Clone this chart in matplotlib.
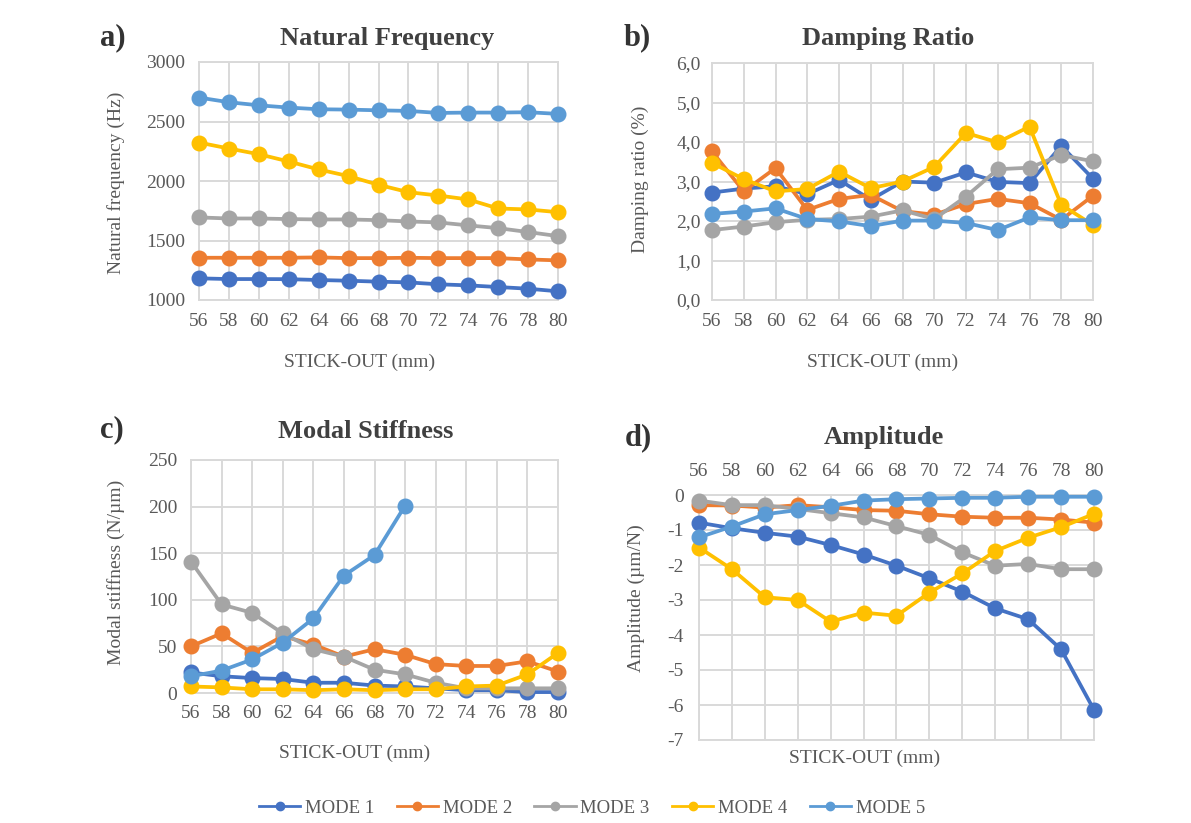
import numpy as np
import matplotlib
matplotlib.use("Agg")
import matplotlib.pyplot as plt
from matplotlib.lines import Line2D

plt.rcParams['font.family'] = ['Liberation Serif', 'DejaVu Serif']
plt.rcParams['axes.unicode_minus'] = False

# stick-out lengths (mm)
stick_out = [56, 58, 60, 62, 64, 66, 68, 70, 72, 74, 76, 78, 80]
modes = ['MODE 1', 'MODE 2', 'MODE 3', 'MODE 4', 'MODE 5']
colors = ['#4472C4', '#ED7D31', '#A5A5A5', '#FFC000', '#5B9BD5']

# natural frequency (Hz)
freq_m1 = [1182, 1176, 1176, 1175, 1168, 1162, 1154, 1148, 1132, 1123, 1109, 1095, 1073]
freq_m2 = [1355, 1355, 1355, 1355, 1358, 1352, 1352, 1355, 1352, 1352, 1352, 1341, 1333]
freq_m3 = [1694, 1685, 1685, 1680, 1677, 1677, 1671, 1660, 1652, 1627, 1604, 1571, 1537]
freq_m4 = [2323, 2273, 2225, 2164, 2097, 2041, 1968, 1906, 1878, 1845, 1769, 1761, 1738]
freq_m5 = [2701, 2662, 2636, 2617, 2603, 2600, 2594, 2589, 2572, 2575, 2575, 2578, 2564]

# damping ratio (%)
damp_m1 = [2.72, 2.82, 2.88, 2.68, 3.04, 2.54, 3.00, 2.97, 3.23, 2.99, 2.96, 3.90, 3.07]
damp_m2 = [3.76, 2.75, 3.34, 2.28, 2.56, 2.66, 2.25, 2.16, 2.43, 2.56, 2.45, 2.03, 2.64]
damp_m3 = [1.77, 1.86, 1.97, 2.03, 2.05, 2.11, 2.27, 2.05, 2.62, 3.31, 3.35, 3.67, 3.51]
damp_m4 = [3.47, 3.06, 2.75, 2.81, 3.25, 2.83, 3.00, 3.37, 4.23, 3.99, 4.39, 2.41, 1.90]
damp_m5 = [2.18, 2.24, 2.32, 2.05, 1.99, 1.87, 2.01, 2.01, 1.95, 1.77, 2.09, 2.02, 2.02]

# modal stiffness (N/µm)
stiff_m1 = [22, 18, 16, 15, 11, 11, 8, 7, 5, 3, 3, 1, 1]
stiff_m2 = [50, 64, 43, 61, 52, 39, 47, 41, 31, 29, 29, 34, 23]
stiff_m3 = [141, 95, 86, 64, 47, 39, 25, 20, 11, 5, 5, 5, 5]
stiff_m4 = [7, 6, 4, 4, 3, 4, 3, 4, 4, 7, 8, 20, 43]
stiff_m5 = [18, 24, 36, 54, 80, 126, 148, 201, np.nan, np.nan, np.nan, np.nan, np.nan]

# amplitude (µm/N)
amp_m1 = [-0.79, -0.95, -1.08, -1.19, -1.43, -1.70, -2.02, -2.38, -2.76, -3.24, -3.55, -4.41, -6.14]
amp_m2 = [-0.29, -0.30, -0.36, -0.29, -0.35, -0.43, -0.45, -0.55, -0.62, -0.65, -0.65, -0.70, -0.79]
amp_m3 = [-0.16, -0.29, -0.29, -0.40, -0.52, -0.64, -0.89, -1.14, -1.64, -2.02, -1.97, -2.12, -2.12]
amp_m4 = [-1.50, -2.12, -2.92, -3.00, -3.62, -3.36, -3.45, -2.79, -2.24, -1.60, -1.22, -0.92, -0.54]
amp_m5 = [-1.21, -0.90, -0.55, -0.43, -0.31, -0.16, -0.12, -0.10, -0.08, -0.08, -0.05, -0.05, -0.05]

W, H = 1191, 823
fig = plt.figure(figsize=(W / 100, H / 100), dpi=100)
fig.patch.set_facecolor('white')

GRID = '#D9D9D9'
TXT = '#595959'


def add_panel(left, right, top, bottom):
    return fig.add_axes([left / W, 1 - bottom / H, (right - left) / W, (bottom - top) / H])


def ftext(x, y, s, **kw):
    fig.text(x / W, 1 - y / H, s, ha='center', va='center', **kw)


def style(ax, ymin, ymax, ystep, ypad):
    ax.set_xlim(56, 80)
    ax.set_ylim(ymin, ymax)
    ax.set_xticks(stick_out)
    ax.set_yticks(np.arange(ymin, ymax + ystep / 2, ystep))
    ax.grid(True, color=GRID, lw=1.4)
    ax.set_axisbelow(True)
    for s in ax.spines.values():
        s.set_color(GRID)
        s.set_linewidth(1.4)
    ax.tick_params(length=0, labelsize=14, colors=TXT)
    ax.tick_params(axis='x', pad=9)
    ax.tick_params(axis='y', pad=ypad)


def draw(ax, series):
    for vals, c in zip(series, colors):
        ax.plot(stick_out, vals, color=c, lw=2.7, marker='o', ms=10.5,
                clip_on=False, zorder=3)


# a) natural frequency
ax_a = add_panel(199, 558, 62, 300)
draw(ax_a, [freq_m1, freq_m2, freq_m3, freq_m4, freq_m5])
style(ax_a, 1000, 3000, 500, 10)

# b) damping ratio
ax_b = add_panel(712, 1093, 63, 300)
draw(ax_b, [damp_m1, damp_m2, damp_m3, damp_m4, damp_m5])
style(ax_b, 0, 6, 1, 8)
ax_b.set_yticklabels([f"{v:.1f}".replace('.', ',') for v in np.arange(0, 6.5, 1)])

# c) modal stiffness
ax_c = add_panel(191, 558, 460, 693)
draw(ax_c, [stiff_m1, stiff_m2, stiff_m3, stiff_m4, stiff_m5])
style(ax_c, 0, 250, 50, 10)

# d) amplitude, category labels on top
ax_d = add_panel(699, 1094, 495, 740)
draw(ax_d, [amp_m1, amp_m2, amp_m3, amp_m4, amp_m5])
style(ax_d, -7, 0, 1, 11)
ax_d.xaxis.tick_top()
ax_d.tick_params(axis='x', pad=11)

# titles and panel letters
title_kw = dict(fontsize=19, fontweight='bold', color='#404040')
letter_kw = dict(fontsize=22, fontweight='bold', color='#333333')
ftext(387, 38, 'Natural Frequency', **title_kw)
ftext(888, 38, 'Damping Ratio', **title_kw)
ftext(366, 432, 'Modal Stiffness', **title_kw)
ftext(884, 437, 'Amplitude', **title_kw)
ftext(113, 38, 'a)', **letter_kw)
ftext(637, 38, 'b)', **letter_kw)
ftext(112, 430, 'c)', **letter_kw)
ftext(638, 438, 'd)', **letter_kw)

# axis labels
lab_kw = dict(fontsize=14, color=TXT)
ftext(116, 183, 'Natural frequency (Hz)', rotation=90, **lab_kw)
ftext(640, 179, 'Damping ratio (%)', rotation=90, **lab_kw)
ftext(116, 572, 'Modal stiffness (N/µm)', rotation=90, **lab_kw)
ftext(636, 598, 'Amplitude (µm/N)', rotation=90, **lab_kw)
ftext(360, 362, 'STICK-OUT (mm)', **lab_kw)
ftext(883, 362, 'STICK-OUT (mm)', **lab_kw)
ftext(355, 753, 'STICK-OUT (mm)', **lab_kw)
ftext(865, 758, 'STICK-OUT (mm)', **lab_kw)

# shared legend
handles = [Line2D([], [], color=c, lw=2, marker='o', ms=6) for c in colors]
fig.legend(handles, modes, loc='center', bbox_to_anchor=(592 / W, 1 - 808 / H),
           ncol=5, frameon=False, fontsize=13.5, handlelength=2.2,
           handletextpad=0.25, columnspacing=1.2, labelcolor=TXT)

fig.savefig('out.png', dpi=100, facecolor='white')
